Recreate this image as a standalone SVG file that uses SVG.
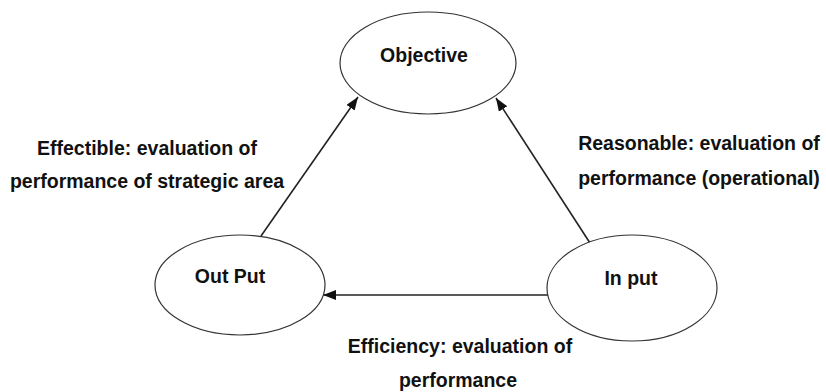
<svg xmlns="http://www.w3.org/2000/svg" width="826" height="392" viewBox="0 0 826 392">
  <style>
    .node { fill: #ffffff; stroke: #333333; stroke-width: 1.2; }
    .lbl { font-family: "Liberation Sans", Arial, sans-serif; font-weight: bold; font-size: 19.5px; fill: #111111; text-anchor: middle; }
    .edge { stroke: #222222; stroke-width: 1.6; fill: none; }
  </style>
  <defs>
    <marker id="arrow" markerUnits="userSpaceOnUse" markerWidth="14" markerHeight="12" refX="13" refY="5" orient="auto">
      <path d="M0,0 L13,5 L0,10 Z" fill="#111111"/>
    </marker>
  </defs>
  <rect width="826" height="392" fill="#ffffff"/>

  <g id="connectors">
    <line class="edge" x1="261" y1="236" x2="358" y2="97" marker-end="url(#arrow)"/>
    <line class="edge" x1="590" y1="243" x2="496" y2="98" marker-end="url(#arrow)"/>
    <line class="edge" x1="548" y1="295" x2="323" y2="295" marker-end="url(#arrow)"/>
    <text class="lbl" x="147" y="155">Effectible: evaluation of</text>
    <text class="lbl" x="147" y="188">performance of strategic area</text>
    <text class="lbl" x="699" y="150">Reasonable: evaluation of</text>
    <text class="lbl" x="699" y="185">performance (operational)</text>
    <text class="lbl" x="460" y="353">Efficiency: evaluation of</text>
    <text class="lbl" x="458" y="387">performance</text>
  </g>

  <g id="objective">
    <ellipse class="node" cx="428" cy="63" rx="88" ry="51"/>
    <text class="lbl" x="424" y="62">Objective</text>
  </g>
  <g id="output">
    <ellipse class="node" cx="240" cy="285" rx="85" ry="50"/>
    <text class="lbl" x="230" y="283">Out Put</text>
  </g>
  <g id="input">
    <ellipse class="node" cx="632" cy="288" rx="85" ry="53"/>
    <text class="lbl" x="631" y="285">In put</text>
  </g>
</svg>
